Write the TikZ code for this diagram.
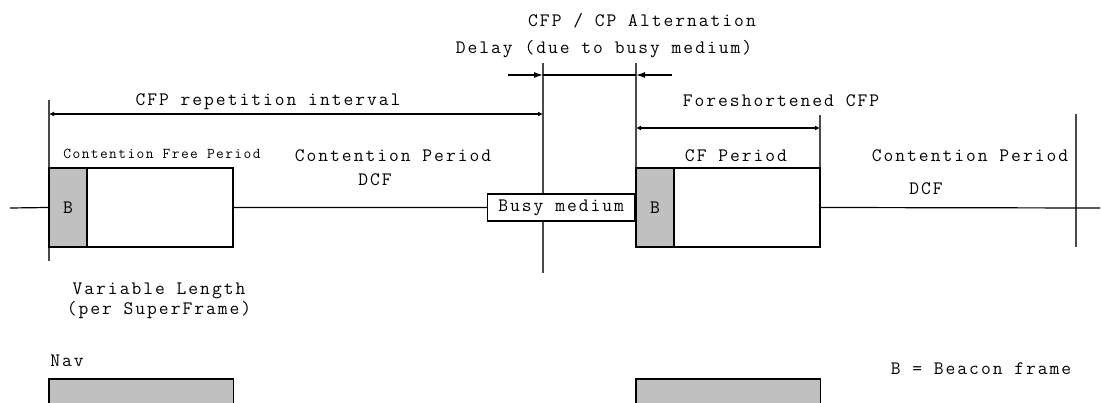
\documentclass[tikz,border=0pt]{standalone}
\usepackage{fontspec}
\setmonofont{Latin Modern Mono}[LetterSpace=10.5]
\newfontfamily\smallmono{Latin Modern Mono}[LetterSpace=9.5]
\usetikzlibrary{positioning, arrows.meta}
\definecolor{beacongray}{HTML}{C0C0C0}
\definecolor{markgray}{HTML}{4A4A4A}
\tikzset{
  x=1pt, y=-1pt, % one unit is one pixel, y runs downwards
  every node/.style={font=\ttfamily\fontsize{19}{22}\selectfont, inner sep=0pt},
  small/.style={font=\smallmono\fontsize{15}{18}\selectfont},
  period/.style={draw, line width=1.3pt, minimum width=184pt, minimum height=79pt},
  beacon/.style={draw, line width=1.3pt, fill=beacongray, minimum width=38pt, minimum height=79pt, anchor=west},
  busy/.style={draw, line width=1.3pt, fill=white, minimum width=147pt, minimum height=27pt, anchor=east},
  nav/.style={fill=beacongray, minimum width=184pt, minimum height=26pt, anchor=north west},
  timeline/.style={line width=1.2pt},
  marker/.style={draw=markgray, line width=1.8pt},
  span/.style={line width=1.2pt, {Latex[length=5pt,width=5pt]}-{Latex[length=5pt,width=5pt]}},
  delay/.style={line width=1.2pt, -{Latex[length=9pt,width=6pt]}},
}
\begin{document}
\begin{tikzpicture}
  \useasboundingbox (0,0) rectangle (1101,403);

  % time markers
  \coordinate (m1top) at (49,100);   \coordinate (m1bot) at (49,261);
  \coordinate (m2top) at (543,63);   \coordinate (m2bot) at (543,273);
  \coordinate (m3top) at (636,63);   \coordinate (m3bot) at (636,168);
  \coordinate (m4top) at (820,115);  \coordinate (m4bot) at (820,168);
  \coordinate (m5top) at (1076,114); \coordinate (m5bot) at (1076,247);
  \foreach \m in {m1,m2,m3,m4,m5}
    \draw[marker] (\m top) -- (\m bot);

  % the time line
  \coordinate (lstart) at (10,208);
  \coordinate (lend)   at (1100,208);

  % periods
  \node[period] (cfp1) at (141,207.5) {};
  \node[beacon] (b1) at (cfp1.west) {B};
  \node[period] (cfp2) at (728,207.5) {};
  \node[beacon] (b2) at (cfp2.west) {B};
  \node[busy]   (busy) at (cfp2.west) {Busy medium};

  \draw[timeline] (lstart) -- (b1.west)
                  (cfp1.east) -- (busy.west)
                  (cfp2.east) -- (lend);

  % intervals
  \coordinate (rep1) at (49,114);  \coordinate (rep2) at (543,114);
  \coordinate (fs1)  at (636,128); \coordinate (fs2)  at (820,128);
  \coordinate (dl1)  at (508,75);  \coordinate (dl2)  at (543,75);
  \coordinate (dl3)  at (636,75);  \coordinate (dl4)  at (672,75);
  \draw[span] (rep1) -- (rep2);
  \draw[span] (fs1) -- (fs2);
  \draw[delay] (dl1) -- (dl2);
  \draw[timeline] (dl2) -- (dl3);
  \draw[delay] (dl4) -- (dl3);

  % labels
  \node (alt)   at (642,21)    {CFP / CP Alternation};
  \node (delay) at (604,49)    {Delay (due to busy medium)};
  \node (rep)   at (268,102)   {CFP repetition interval};
  \node (fore)  at (781,101)   {Foreshortened CFP};
  \node[small] (cfplab) at (162,154) {Contention Free Period};
  \node (cp1)   at (393,156)   {Contention Period};
  \node (dcf1)  at (375,180)   {DCF};
  \node (cflab) at (736,156)   {CF Period};
  \node (cp2)   at (970,156)   {Contention Period};
  \node (dcf2)  at (926,189)   {DCF};
  \node (var)   at (159,291)   {Variable Length};
  \node (super) at (159,310)   {(per SuperFrame)};
  \node (navlab) at (67,361)   {Nav};
  \node (key)   at (981,369)   {B = Beacon frame};

  % nav vectors
  \node[nav] (nav1) at (49,379) {};
  \node[nav] (nav2) at (636,379) {};
  \foreach \n in {nav1,nav2}
    \draw[line width=1.3pt] (\n.south west) |- (\n.north east) -- (\n.south east);
\end{tikzpicture}
\end{document}
